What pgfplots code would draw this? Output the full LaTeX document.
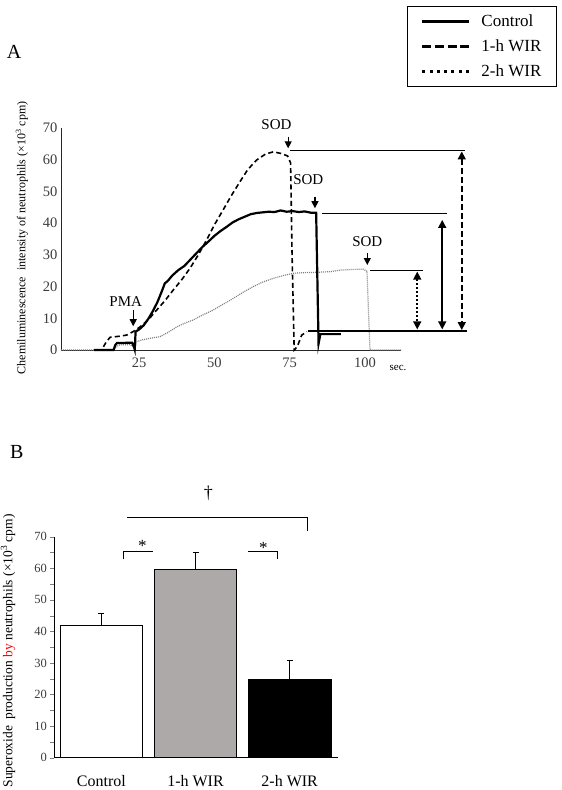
\documentclass[border=0pt]{standalone}
\usepackage{pgfplots}
\pgfplotsset{compat=1.18}
\usepackage{fontspec}
\setmainfont{Liberation Serif}
\usetikzlibrary{arrows.meta}
\definecolor{barGray}{RGB}{173,169,168}
\definecolor{tickGray}{RGB}{60,60,60}
\begin{document}
\begin{tikzpicture}[x=1pt,y=1pt]
\path[use as bounding box] (0,0) rectangle (562,-790);
\node[font=\fontsize{20}{20}\selectfont] at (14,-52) {A};
\node[font=\fontsize{20}{20}\selectfont] at (16.7,-451.7) {B};
\node[font=\fontsize{11}{11}\selectfont] at (398,-367.5) {sec.};

\begin{axis}[
  at={(61pt,-350pt)}, anchor=south west,
  scale only axis, width=340pt, height=222pt,
  xmin=-1, xmax=112, ymin=0, ymax=70,
  axis x line=bottom, axis y line=left,
  axis line style={-, line width=0.8pt, black!85},
  clip=false,
  xtick={25,50,75,100}, ytick={0,10,...,70},
  major tick length=0pt,
  ticklabel style={font=\fontsize{14.5}{14.5}\selectfont, text=tickGray},
  /pgf/number format/assume math mode=true,
  xticklabel style={yshift=-4pt},
  ylabel={Chemiluminescence\ \ intensity of neutrophils (×10\textsuperscript{3} cpm)},
  ylabel style={at={(axis description cs:-0.115,0.505)}, anchor=center, font=\fontsize{12}{12}\selectfont},
  legend image code/.code={\draw[#1] (0pt,0pt) -- (46.7pt,0pt);},
  legend style={at={(axis description cs:1.0185,1.55)}, anchor=north west,
    draw=black, line width=1pt, font=\fontsize{17}{17}\selectfont,
    inner xsep=13pt, inner ysep=6.5pt, row sep=7.6pt,
    cells={anchor=west},
    /tikz/every odd column/.append style={column sep=9pt}},
]
\addlegendimage{black, line width=3pt}
\addlegendentry{Control}
\addlegendimage{black, line width=3pt, dash pattern=on 9pt off 3.7pt}
\addlegendentry{1-h WIR}
\addlegendimage{black, line width=3pt, dash pattern=on 3pt off 4.3pt}
\addlegendentry{2-h WIR}

% 2-h WIR
\addplot[gray, line width=1.2pt, dash pattern=on 1pt off 1pt, forget plot] coordinates {
(-1,0) (16.5,0) (17.3,1) (18.5,1.6) (22,1.7) (23,1) (23.5,0.2) (24,2.6) (26,3.2) (28.6,3.7)
(31.9,4.2) (34.5,5.5) (37.5,7.3) (40,8.4) (43,9.5) (46,11) (49.6,12.6) (53,14.5) (56.3,16.3)
(59.5,18.2) (62.9,20) (66,21.4) (69.6,22.6) (73,23.5) (76.2,24.2) (80,24.4) (84,24.5) (88.4,24.7)
(92,25.2) (96,25.4) (99.5,25.5) (100.7,24.8) (101.2,12) (101.7,0) (112,0)};
% 1-h WIR
\addplot[black, line width=1.6pt, dash pattern=on 5pt off 3.2pt, forget plot] coordinates {
(13.1,1) (14,2.5) (15.3,4) (18,4.3) (20.8,4.7) (23,5.8) (25.3,7.3) (28,9.5) (30.8,12.6) (33.5,15.5)
(36.3,18.9) (39,22) (41.9,25.8) (44.5,29.8) (47.4,34.7) (50,39.5) (52.9,44.2) (55.5,48.5) (58.5,53.1)
(61,56.8) (64,59.9) (67,61.8) (69.6,62.5) (72,62) (74.3,61.2) (75.3,59) (75.8,30) (76.5,0) (77.5,1)
(79,4.7) (80.7,5.8)};
% Control
\addplot[black, line width=2.2pt, forget plot] coordinates {
(10,0) (16.5,0) (17,1.5) (17.6,2.2) (22.6,2.3) (23.2,1.2) (23.5,0.2) (23.8,5.8) (25,6.5) (26.5,7.8)
(28,9.8) (29.5,12.2) (31,15) (32.5,18.5) (33.5,21) (34.5,21.8) (36,23.5) (38,25.2) (40,26.5) (42,28.5)
(44,30.5) (46,32.5) (48,34.2) (50,36) (52,37.5) (54,38.8) (56,40.2) (58,41.2) (60,42) (62,42.8)
(64,43.2) (66,43.4) (68,43.6) (70,43.5) (72,44) (74,43.6) (76,43.8) (78,43.5) (80,43.7) (82,43.3)
(83.8,43.3) (84.6,2) (85.2,5) (92,5)};

% reference lines and arrows
\draw[line width=1.2pt] (75.1,62.9) -- (133.3,62.9);
\draw[line width=1.2pt] (81.1,6) -- (133.8,6);
\draw[line width=1.2pt] (85.6,43.1) -- (127.2,43.1);
\draw[line width=1.2pt] (101.7,25) -- (119.4,25);
\draw[line width=1.6pt, dash pattern=on 6pt off 3pt, {Triangle[length=8pt,width=8pt]}-{Triangle[length=8pt,width=8pt]}] (132.2,62.6) -- (132.2,6.3);
\draw[line width=1.6pt, {Triangle[length=8pt,width=8pt]}-{Triangle[length=8pt,width=8pt]}] (125.7,41) -- (125.7,6.5);
\draw[line width=1.6pt, dash pattern=on 2pt off 2pt, {Triangle[length=8pt,width=8pt]}-{Triangle[length=8pt,width=8pt]}] (117.4,24.7) -- (117.4,6.5);

\draw[line width=1.2pt, -{Triangle[length=7pt,width=7pt]}] (74.5,67.3) -- (74.5,63.6);
\draw[line width=1.2pt, -{Triangle[length=7pt,width=7pt]}] (83.4,48.4) -- (83.4,44.7);
\draw[line width=1.2pt, -{Triangle[length=7pt,width=7pt]}] (100.8,30.5) -- (100.8,26.8);
\draw[line width=1.2pt, -{Triangle[length=7pt,width=7pt]}] (23,12.5) -- (23,7.5);
\node[font=\fontsize{15}{15}\selectfont] at (70.6,71) {SOD};
\node[font=\fontsize{15}{15}\selectfont] at (81.2,53.6) {SOD};
\node[font=\fontsize{15}{15}\selectfont] at (100.8,34.2) {SOD};
\node[font=\fontsize{15}{15}\selectfont] at (20.5,15.2) {PMA};
\end{axis}

\begin{axis}[
  at={(54.3pt,-757.7pt)}, anchor=south west,
  scale only axis, width=283.4pt, height=221pt,
  xmin=-0.5, xmax=2.51, ymin=0, ymax=70,
  axis x line=bottom, axis y line=left,
  axis line style={-, line width=0.8pt},
  clip=false,
  xtick={0,1,2}, xticklabels={Control,1-h WIR,2-h WIR},
  ytick={0,10,...,70}, minor ytick={5,15,...,65},
  tick align=outside, major tick length=4pt, minor tick length=4pt,
  x tick style={draw=none},
  /pgf/number format/assume math mode=true,
  yticklabel style={font=\fontsize{12.5}{12.5}\selectfont, text=tickGray},
  xticklabel style={font=\fontsize{16}{16}\selectfont, yshift=-10pt},
  ylabel={Superoxide\ \ production \textcolor{red}{by} neutrophils (×10\textsuperscript{3} cpm)},
  ylabel style={at={(axis description cs:-0.163,0.483)}, anchor=center, font=\fontsize{13.5}{13.5}\selectfont},
  ybar, bar width=0.878, bar shift=0pt,
  error bars/y dir=plus, error bars/y explicit,
  error bars/error mark options={rotate=90, mark size=3pt, line width=1pt, black},
  error bars/error bar style={line width=1pt, black},
]
\addplot[fill=white, draw=black, line width=1pt] coordinates {(0,41.8) +- (0,3.9)};
\addplot[fill=barGray, draw=black, line width=1pt] coordinates {(1,59.5) +- (0,5.4)};
\addplot[fill=black, draw=black, line width=1pt] coordinates {(2,24.9) +- (0,5.8)};

\draw[line width=1pt] (0.24,62.8) -- (0.24,65.3) -- (0.546,65.3);
\draw[line width=1pt] (1.56,65.3) -- (1.87,65.3) -- (1.87,62.8);
\draw[line width=1pt] (0.276,76.1) -- (2.187,76.1) -- (2.187,71.9);
\node[font=\fontsize{17}{17}\selectfont] at (0.435,67.2) {*};
\node[font=\fontsize{17}{17}\selectfont] at (1.72,66.4) {*};
\node[font=\fontsize{18}{18}\selectfont] at (1.136,83.7) {†};
\end{axis}
\end{tikzpicture}
\end{document}
